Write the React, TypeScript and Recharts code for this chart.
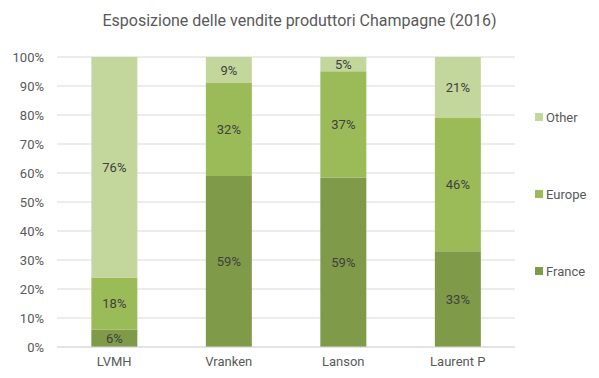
import { BarChart, Bar, XAxis, YAxis, CartesianGrid } from "recharts"

const producers = ["LVMH", "Vranken", "Lanson", "Laurent P"]
const france = [6, 59, 59, 33]
const europe = [18, 32, 37, 46]
const other = [76, 9, 5, 21]
const yTicks = [0, 0.1, 0.2, 0.3, 0.4, 0.5, 0.6, 0.7, 0.8, 0.9, 1]

const FONT = "Roboto, sans-serif"
const COLORS = { france: "#7f9a48", europe: "#9bbb59", other: "#c3d69b" }

const data = producers.map((name, i) => ({
  name,
  france: france[i],
  europe: europe[i],
  other: other[i],
}))

const makeLabel = (values: number[]) => (props: any) => {
  const { x, y, width, height, index } = props
  return (
    <text
      x={x + width / 2}
      y={y + height / 2}
      textAnchor="middle"
      dominantBaseline="central"
      fill="#404040"
      fontSize={13}
      fontFamily={FONT}
    >
      {values[index]}%
    </text>
  )
}

const legendItems = [
  { name: "Other", color: COLORS.other },
  { name: "Europe", color: COLORS.europe },
  { name: "France", color: COLORS.france },
]

function LegendBox() {
  return (
    <div style={{ position: "absolute", top: 107, left: 535, fontFamily: FONT, fontSize: 13, color: "#595959" }}>
      {legendItems.map((item) => (
        <div key={item.name} style={{ display: "flex", alignItems: "center", height: 20, marginBottom: 57 }}>
          <span style={{ width: 8, height: 8, background: item.color, marginRight: 3, display: "inline-block" }} />
          {item.name}
        </div>
      ))}
    </div>
  )
}

export default function App() {
  return (
    <div style={{ position: "absolute", left: 0, top: 0, width: 599, height: 378, background: "#fff" }}>
      <div
        style={{
          position: "absolute",
          top: 11,
          width: 599,
          textAlign: "center",
          fontFamily: FONT,
          fontSize: 16,
          color: "#595959",
        }}
      >
        Esposizione delle vendite produttori Champagne (2016)
      </div>
      <BarChart
        width={599}
        height={378}
        data={data}
        stackOffset="expand"
        barCategoryGap="30%"
        margin={{ top: 57, right: 84, left: 0, bottom: 0 }}
      >
        <CartesianGrid vertical={false} stroke="#d9d9d9" />
        <XAxis
          dataKey="name"
          height={31}
          tickLine={false}
          axisLine={{ stroke: "#d9d9d9" }}
          tick={{ fill: "#595959", fontSize: 13, fontFamily: FONT }}
          tickMargin={4}
        />
        <YAxis
          width={57}
          ticks={yTicks}
          domain={[0, 1]}
          tickFormatter={(v: number) => `${Math.round(v * 100)}%`}
          tickLine={false}
          axisLine={false}
          tickMargin={7}
          tick={{ fill: "#595959", fontSize: 13, fontFamily: FONT }}
        />
        <Bar dataKey="france" stackId="a" fill={COLORS.france} isAnimationActive={false} label={makeLabel(france)} />
        <Bar dataKey="europe" stackId="a" fill={COLORS.europe} isAnimationActive={false} label={makeLabel(europe)} />
        <Bar dataKey="other" stackId="a" fill={COLORS.other} isAnimationActive={false} label={makeLabel(other)} />
      </BarChart>
      <LegendBox />
    </div>
  )
}
